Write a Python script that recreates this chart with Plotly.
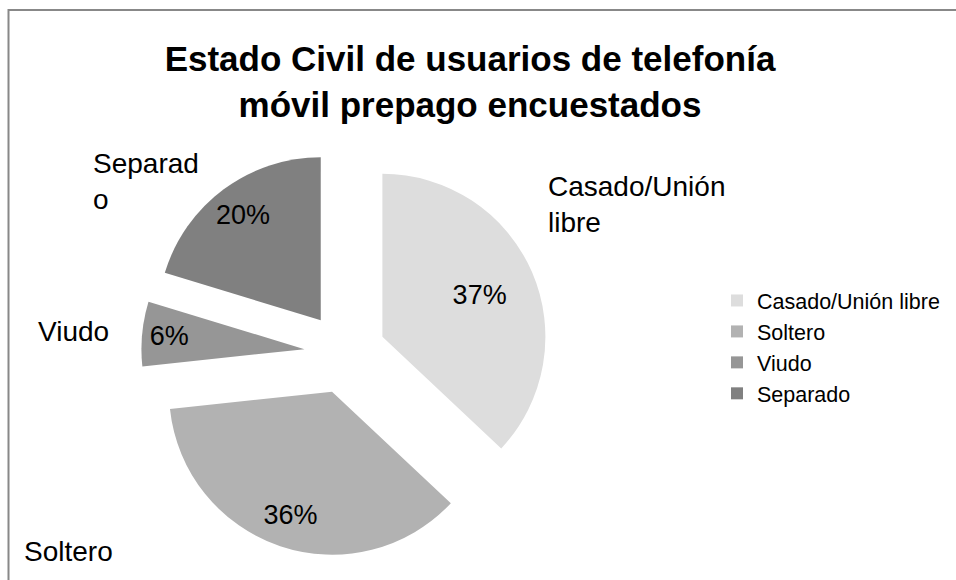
import plotly.graph_objects as go

# ---- data ----
labels = ["Casado/Unión libre", "Soltero", "Viudo", "Separado"]
values = [37.0, 36.3, 6.4, 20.3]          # percentages
colors = ["#dddddd", "#b2b2b2", "#969696", "#808080"]
outer_labels = ["Casado/Unión<br>libre", "Soltero", "Viudo", "Separad<br>o"]
title_text = "Estado Civil de usuarios de telefonía<br>móvil prepago encuestados"

W, H = 956, 580
FONT = "Liberation Sans, Arial, sans-serif"
PULL = 0.25

# pie placement (pixels): centre and radius
cx, cy, r = 345, 353, 163
half = r * (1 + PULL)
dom_x = [(cx - half) / W, (cx + half) / W]
dom_y = [(H - cy - half) / H, (H - cy + half) / H]

fig = go.Figure()

# main coloured pie
fig.add_trace(go.Pie(
    labels=labels, values=values, sort=False, direction="clockwise", rotation=0,
    pull=[PULL] * len(values),
    marker=dict(colors=colors, line=dict(width=0)),
    textinfo="none", domain=dict(x=dom_x, y=dom_y),
    hovertemplate="%{label}: %{percent:.0%}<extra></extra>",
))

# transparent overlays carrying the percentage labels (ring position controls label radius)
for hole, mask in [(0.3, [True, False, False, False]), (0.6, [False, True, True, True])]:
    fig.add_trace(go.Pie(
        labels=labels, values=values, sort=False, direction="clockwise", rotation=0,
        pull=[PULL] * len(values), hole=hole,
        marker=dict(colors=["rgba(0,0,0,0)"] * len(values), line=dict(width=0)),
        texttemplate=["%{percent:.0%}" if m else "" for m in mask],
        textposition="inside", insidetextorientation="horizontal",
        insidetextfont=dict(family=FONT, size=27, color="#000000"),
        domain=dict(x=dom_x, y=dom_y), showlegend=False, hoverinfo="skip",
    ))

# category name labels outside the slices
label_pos = [(546, 204, "left"), (22, 551, "left"), (36, 331, "left"), (91, 181, "left")]
for txt, (px, py, anc) in zip(outer_labels, label_pos):
    fig.add_annotation(
        text=txt, x=px / W, y=1 - py / H, xref="paper", yref="paper",
        xanchor=anc, yanchor="middle", align="left", showarrow=False,
        font=dict(family=FONT, size=28, color="#000000"),
    )

fig.update_layout(
    width=W, height=H,
    margin=dict(l=0, r=0, t=0, b=0),
    paper_bgcolor="#ffffff", plot_bgcolor="#ffffff",
    title=dict(
        text="<b>" + title_text + "</b>", x=470 / W, xanchor="center",
        y=1 - 71 / H, yanchor="middle", xref="container", yref="container",
        font=dict(family=FONT, size=35, color="#000000"),
    ),
    legend=dict(
        x=717 / W, xanchor="left", y=1 - 347 / H, yanchor="middle",
        font=dict(family=FONT, size=21.5, color="#000000"),
        bgcolor="rgba(0,0,0,0)",
    ),
    shapes=[dict(
        type="rect", xref="paper", yref="paper",
        x0=8.5 / W, x1=1.05, y0=-0.05, y1=1 - 10 / H,
        line=dict(color="#888888", width=2), fillcolor="rgba(0,0,0,0)", layer="above",
    )],
)

fig.write_html(
    "out.html",
    config={"displayModeBar": False},
    post_script="document.body.style.margin='0px';document.body.style.overflow='hidden';",
)
